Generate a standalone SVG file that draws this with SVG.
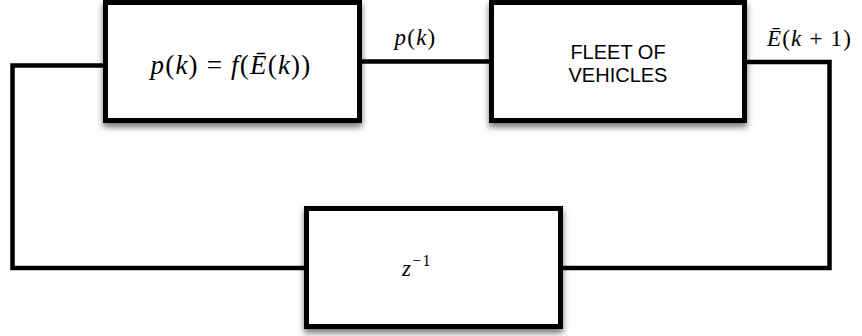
<svg xmlns="http://www.w3.org/2000/svg" width="862" height="336" viewBox="0 0 862 336">
  <defs>
    <filter id="shadow" x="-10%" y="-10%" width="120%" height="130%">
      <feDropShadow dx="0" dy="4" stdDeviation="3" flood-color="#000" flood-opacity="0.55"/>
    </filter>
  </defs>
  <style>
    .box { fill: #ffffff; stroke: #000000; stroke-width: 5; filter: url(#shadow); }
    .wire { fill: none; stroke: #000000; stroke-width: 4.5; stroke-linejoin: miter; }
    .math { font-family: "Liberation Serif", "Times New Roman", serif; fill: #000; letter-spacing: 1.2px; }
    .it { font-style: italic; }
    .sans { font-family: "Liberation Sans", Arial, sans-serif; font-size: 20px; fill: #000; text-anchor: middle; }
  </style>
  <rect x="0" y="0" width="862" height="336" fill="#ffffff"/>
  <g id="connectors">
    <polyline class="wire" points="103,65.5 12.5,65.5 12.5,268 304,268"/>
    <line class="wire" x1="362" y1="61.5" x2="489" y2="61.5"/>
    <polyline class="wire" points="747,62 829.5,62 829.5,268 563,268"/>
  </g>
  <g id="node-controller">
    <rect class="box" x="105.5" y="2.5" width="254" height="118"/>
    <text class="math" x="231" y="74" font-size="27" text-anchor="middle" xml:space="preserve"><tspan class="it">p</tspan>(<tspan class="it">k</tspan>) = <tspan class="it">f</tspan>(<tspan class="it">Ē</tspan>(<tspan class="it">k</tspan>))</text>
  </g>
  <g id="node-fleet">
    <rect class="box" x="491.5" y="2.5" width="253" height="118"/>
    <text class="sans" x="618" y="59">FLEET OF</text>
    <text class="sans" x="618" y="82">VEHICLES</text>
  </g>
  <g id="node-delay">
    <rect class="box" x="306.5" y="208.5" width="254" height="118"/>
    <text class="math" x="402" y="276" font-size="23"><tspan class="it">z</tspan><tspan font-size="16" dy="-10">−1</tspan></text>
  </g>
  <g id="labels">
    <text class="math" x="415.5" y="45" font-size="23" text-anchor="middle"><tspan class="it">p</tspan>(<tspan class="it">k</tspan>)</text>
    <text class="math" x="809.5" y="46" font-size="23" text-anchor="middle" xml:space="preserve"><tspan class="it">Ē</tspan>(<tspan class="it">k</tspan> + 1)</text>
  </g>
</svg>
